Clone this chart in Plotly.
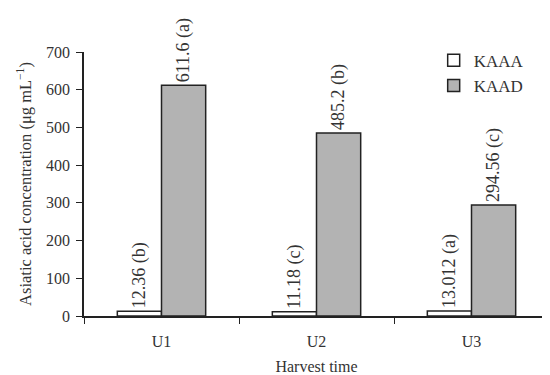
import plotly.graph_objects as go

categories = ["U1", "U2", "U3"]
kaaa = [12.36, 11.18, 13.012]
kaad = [611.6, 485.2, 294.56]
kaaa_labels = ["12.36 (b)", "11.18 (c)", "13.012 (a)"]
kaad_labels = ["611.6 (a)", "485.2 (b)", "294.56 (c)"]
yticks = [0, 100, 200, 300, 400, 500, 600, 700]

font_family = "Liberation Serif, Times New Roman, serif"
text_color = "#333333"
fs = 16

fig = go.Figure()
fig.add_trace(go.Bar(
    x=categories, y=kaaa, name="KAAA",
    marker=dict(color="white", line=dict(color="#222222", width=1.5)),
    text=kaaa_labels, textposition="outside", textangle=-90,
    constraintext="none", cliponaxis=False,
    textfont=dict(family=font_family, size=18, color=text_color),
))
fig.add_trace(go.Bar(
    x=categories, y=kaad, name="KAAD",
    marker=dict(color="#b3b3b3", line=dict(color="#222222", width=1.5)),
    text=kaad_labels, textposition="outside", textangle=-90,
    constraintext="none", cliponaxis=False,
    textfont=dict(family=font_family, size=18, color=text_color),
))

# page body has an 8px default margin; size the figure to compensate
fig.update_layout(
    width=542, height=367,
    margin=dict(l=76, r=1, t=44, b=59),
    paper_bgcolor="white", plot_bgcolor="white",
    barmode="group", bargap=0.43, bargroupgap=0,
    font=dict(family=font_family, size=fs, color=text_color),
    legend=dict(x=0.752, y=1.035, xanchor="left", yanchor="top",
                font=dict(size=17, color=text_color),
                itemwidth=30, tracegroupgap=0, bgcolor="rgba(0,0,0,0)"),
    xaxis=dict(
        showline=True, linecolor="#222222", linewidth=1.5,
        ticks="outside", tickson="boundaries", ticklen=6, tickcolor="#222222",
        showgrid=False, automargin=False, ticklabelstandoff=10,
        tickfont=dict(size=fs),
        title=dict(text="Harvest time", font=dict(size=fs), standoff=14),
    ),
    yaxis=dict(
        range=[0, 700], tickvals=yticks,
        showline=True, linecolor="#222222", linewidth=1.5,
        ticks="outside", ticklen=6, tickcolor="#222222",
        showgrid=False, zeroline=False, automargin=False, ticklabelstandoff=3,
        tickfont=dict(size=fs),
        title=dict(text="Asiatic acid concentration (μg mL<sup>−1</sup>)",
                   font=dict(size=16.5), standoff=10),
    ),
)

fig.write_html("out.html")
